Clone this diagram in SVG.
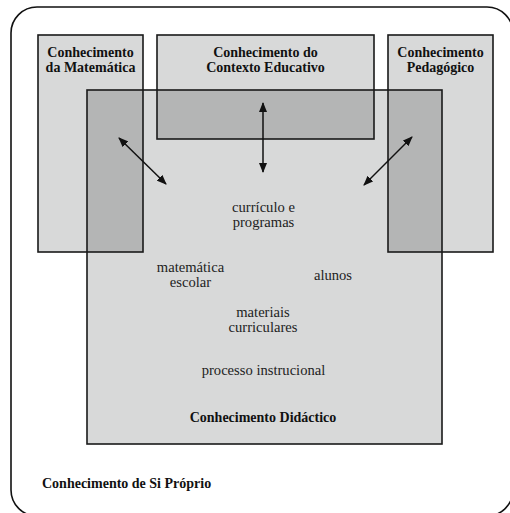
<svg xmlns="http://www.w3.org/2000/svg" width="510" height="513" viewBox="0 0 510 513">
<style>
.box{fill:#d8d9d9;stroke:none}
.ov{fill:#b4b5b5;stroke:none}
.edge{fill:none;stroke:#1a1a1a;stroke-width:1.6}
.b{font-family:"Liberation Serif","Times New Roman",serif;font-weight:bold;font-size:14px;fill:#111;text-anchor:middle}
.r{font-family:"Liberation Serif","Times New Roman",serif;font-size:14.6px;fill:#222;text-anchor:middle}
.arr{stroke:#111;stroke-width:1.5;fill:none;marker-start:url(#ah);marker-end:url(#ah)}
</style>
<defs>
<marker id="ah" viewBox="0 0 10 8" refX="9" refY="4" markerWidth="10" markerHeight="8" markerUnits="userSpaceOnUse" orient="auto-start-reverse">
<path d="M0,0 L10,4 L0,8 Z" fill="#111"/>
</marker>
</defs>
<rect x="11" y="7" width="502" height="509" rx="26" ry="26" fill="#fff" stroke="#111" stroke-width="1.6"/>
<g id="fills">
<rect class="box" x="38" y="35" width="105" height="217"/>
<rect class="box" x="157" y="35" width="217" height="104"/>
<rect class="box" x="388" y="35" width="105" height="217"/>
<rect class="box" x="87" y="90" width="355" height="354"/>
<rect class="ov" x="87" y="90" width="56" height="162"/>
<rect class="ov" x="157" y="90" width="217" height="49"/>
<rect class="ov" x="388" y="90" width="54" height="162"/>
</g>
<g id="matematica">
<rect class="edge" x="38" y="35" width="105" height="217"/>
<text class="b" x="90.5" y="57">Conhecimento</text>
<text class="b" x="90.5" y="72">da Matemática</text>
</g>
<g id="contexto">
<rect class="edge" x="157" y="35" width="217" height="104"/>
<text class="b" x="265.5" y="57">Conhecimento do</text>
<text class="b" x="265.5" y="72">Contexto Educativo</text>
</g>
<g id="pedagogico">
<rect class="edge" x="388" y="35" width="105" height="217"/>
<text class="b" x="440.5" y="57">Conhecimento</text>
<text class="b" x="440.5" y="72">Pedagógico</text>
</g>
<g id="didactico">
<rect class="edge" x="87" y="90" width="355" height="354"/>
<text class="r" x="263.5" y="212">currículo e</text>
<text class="r" x="263.5" y="227">programas</text>
<text class="r" x="190.5" y="271.5">matemática</text>
<text class="r" x="190.5" y="286.5">escolar</text>
<text class="r" x="333" y="280">alunos</text>
<text class="r" x="263" y="317">materiais</text>
<text class="r" x="263" y="332">curriculares</text>
<text class="r" x="263.5" y="375">processo instrucional</text>
<text class="b" x="263" y="422">Conhecimento Didáctico</text>
</g>
<g id="siproprio">
<text class="b" x="42" y="488" style="text-anchor:start">Conhecimento de Si Próprio</text>
</g>
<g id="connectors">
<line class="arr" x1="119" y1="138" x2="166" y2="184"/>
<line class="arr" x1="263" y1="103" x2="263" y2="172"/>
<line class="arr" x1="412" y1="137" x2="364" y2="185"/>
</g>
</svg>
